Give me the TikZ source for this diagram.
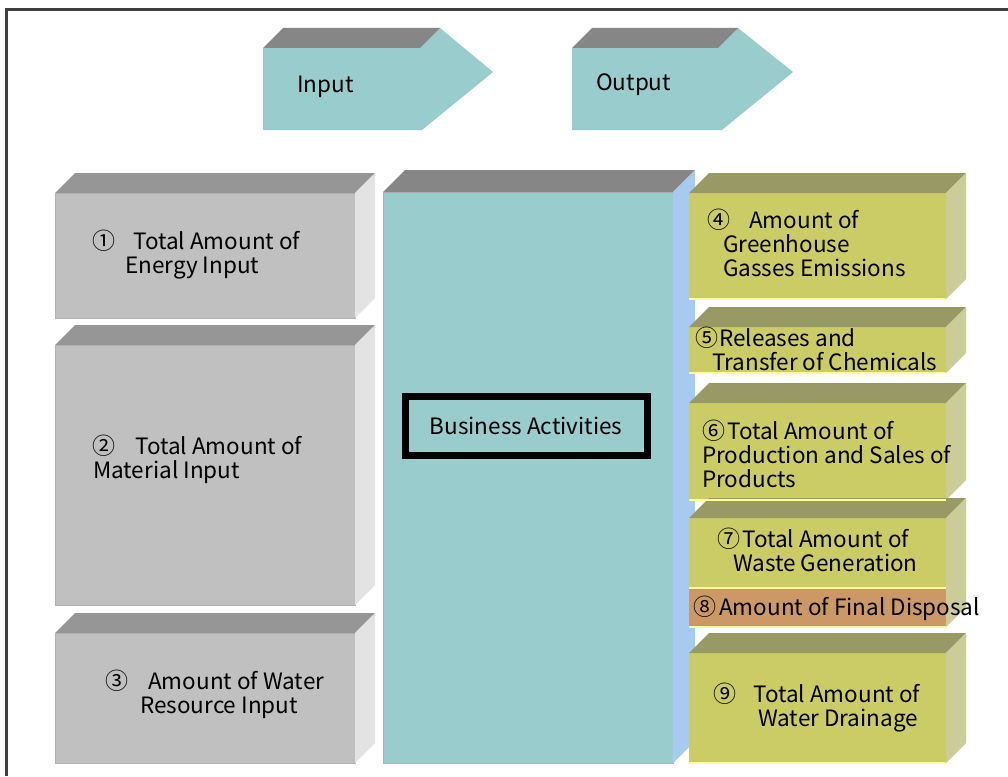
\documentclass[tikz,border=0pt]{standalone}
\usepackage{fontspec}
\setmainfont{Noto Sans CJK JP}
\usetikzlibrary{positioning}
\usetikzlibrary{calc}

\definecolor{grayfront}{HTML}{C0C0C0}
\definecolor{graytop}{HTML}{969696}
\definecolor{grayside}{HTML}{E3E3E3}
\definecolor{tealface}{HTML}{99CCCC}
\definecolor{tealtop}{HTML}{868686}
\definecolor{blueside}{HTML}{A6CAF0}
\definecolor{olivefront}{HTML}{CCCC66}
\definecolor{olivetop}{HTML}{999966}
\definecolor{oliveside}{HTML}{CCCC99}
\definecolor{orangefront}{HTML}{CC9966}
\definecolor{hilite}{HTML}{FFFF99}

% circled number in a box of fixed width
\newcommand{\cn}[2]{\makebox[#1][l]{\fontsize{23}{23}\selectfont #2}}
% top and side faces of a block: top node, bottom node, depth, top colour, side colour
\newcommand{\boxfaces}[5]{%
  \fill[#4] (#1.north west) -- ++(#3,#3) -- ($(#1.north east)+(#3,#3)$) -- (#1.north east) -- cycle;
  \fill[#5] (#1.north east) -- ++(#3,#3) -- ($(#2.south east)+(#3,#3)$) -- (#2.south east) -- cycle;}

\begin{document}
\begin{tikzpicture}[x=1pt, y=-1pt]

% Define styles for different elements
\tikzstyle{front} = [rectangle, inner sep=0, outer sep=0, anchor=north west]
\tikzstyle{graybox} = [front, fill=grayfront, draw=black!30, line width=0.8pt]
\tikzstyle{olivebox} = [front, fill=olivefront]
\tikzstyle{boxtext} = [anchor=base west, align=left, inner sep=0, font=\fontsize{22.5}{24}\selectfont]
\tikzstyle{underline} = [hilite, line width=2pt]

\useasboundingbox (0,0) rectangle (1008,776);
\fill[white] (0,0) rectangle (1008,776);
\draw[line width=3pt, black!75] (6,776) -- (6,10) -- (1008,10);

% Input and Output arrows
\fill[tealface] (263,48) -- (420,48) -- (440,28) -- (493,72) -- (422,130) -- (263,130) -- cycle;
\fill[tealtop] (263,48) -- (283,28) -- (440,28) -- (420,48) -- cycle;
\node (input) [boxtext] at (297,92) {Input};
\fill[tealface] (572,48) -- (718,48) -- (738,28) -- (793,72) -- (722,130) -- (572,130) -- cycle;
\fill[tealtop] (572,48) -- (592,28) -- (738,28) -- (718,48) -- cycle;
\node (output) [boxtext] at (596,90) {Output};

% Input blocks
\node (energy) [graybox, minimum width=300pt, minimum height=125pt] at (55,193) {};
\boxfaces{energy}{energy}{20pt}{graytop}{grayside}
\node (material) [graybox, minimum width=300pt, minimum height=260pt] at (55,345) {};
\boxfaces{material}{material}{20pt}{graytop}{grayside}
\node (water) [graybox, minimum width=300pt, minimum height=130pt] at (55,633) {};
\boxfaces{water}{water}{20pt}{graytop}{grayside}

% text nodes sit on the baseline of their last line
\node (energytxt) [boxtext] at (92,273) {\cn{41pt}{①}Total Amount of\\\hspace*{33pt}Energy Input};
\node (materialtxt) [boxtext] at (92,478) {\cn{43pt}{②}Total Amount of\\\hspace*{1pt}Material Input};
\node (watertxt) [boxtext] at (105,713) {\cn{43pt}{③}Amount of Water\\\hspace*{35pt}Resource Input};

% Business block
\node (business) [front, fill=tealface, draw=black!30, line width=0.8pt, minimum width=290pt, minimum height=571pt] at (383,192) {};
\boxfaces{business}{business}{22pt}{tealtop}{blueside}
\node (biz) [draw, line width=7pt, minimum width=242pt, minimum height=59pt, font=\fontsize{22.5}{24}\selectfont] at (526,425.5) {Business Activities};

% Output blocks
\node (ghg) [olivebox, minimum width=257pt, minimum height=106pt] at (689,193) {};
\boxfaces{ghg}{ghg}{20pt}{olivetop}{oliveside}
\node (chem) [olivebox, minimum width=257pt, minimum height=46pt] at (689,327) {};
\boxfaces{chem}{chem}{20pt}{olivetop}{oliveside}
\node (prod) [olivebox, minimum width=257pt, minimum height=97pt] at (689,403) {};
\boxfaces{prod}{prod}{20pt}{olivetop}{oliveside}
\node (waste) [olivebox, minimum width=257pt, minimum height=70pt] at (689,518) {};
\node (disposal) [front, fill=orangefront, minimum width=257pt, minimum height=39pt] at (689,588) {};
\boxfaces{waste}{disposal}{20pt}{olivetop}{oliveside}
\node (drain) [olivebox, minimum width=257pt, minimum height=110pt] at (689,653) {};
\boxfaces{drain}{drain}{20pt}{olivetop}{oliveside}

\draw[underline] (ghg.south west) -- (ghg.south east);
\draw[underline] (chem.south west) -- (chem.south east);
\draw[underline] (prod.south west) -- (prod.south east);
\draw[underline] (waste.south west) -- (waste.south east);
\draw[underline] (disposal.south west) -- (disposal.south east);
\draw[underline] (drain.south west) -- (drain.south east);

\node (ghgtxt) [boxtext] at (707,276) {\cn{42pt}{④}Amount of\\\hspace*{16pt}Greenhouse\\\hspace*{16pt}Gasses Emissions};
\node (chemtxt) [boxtext] at (695,370) {\cn{24pt}{⑤}Releases and\\\hspace*{17pt}Transfer of Chemicals};
\node (prodtxt) [boxtext] at (702,487) {\cn{25pt}{⑥}Total Amount of\\Production and Sales of\\Products};
\node (wastetxt) [boxtext] at (717,571) {\cn{25pt}{⑦}Total Amount of\\\hspace*{16pt}Waste Generation};
\node (disposaltxt) [boxtext] at (693,615) {\cn{26pt}{⑧}Amount of Final Disposal};
\node (draintxt) [boxtext] at (713,726) {\cn{40pt}{⑨}Total Amount of\\\hspace*{45pt}Water Drainage};
\end{tikzpicture}
\end{document}
